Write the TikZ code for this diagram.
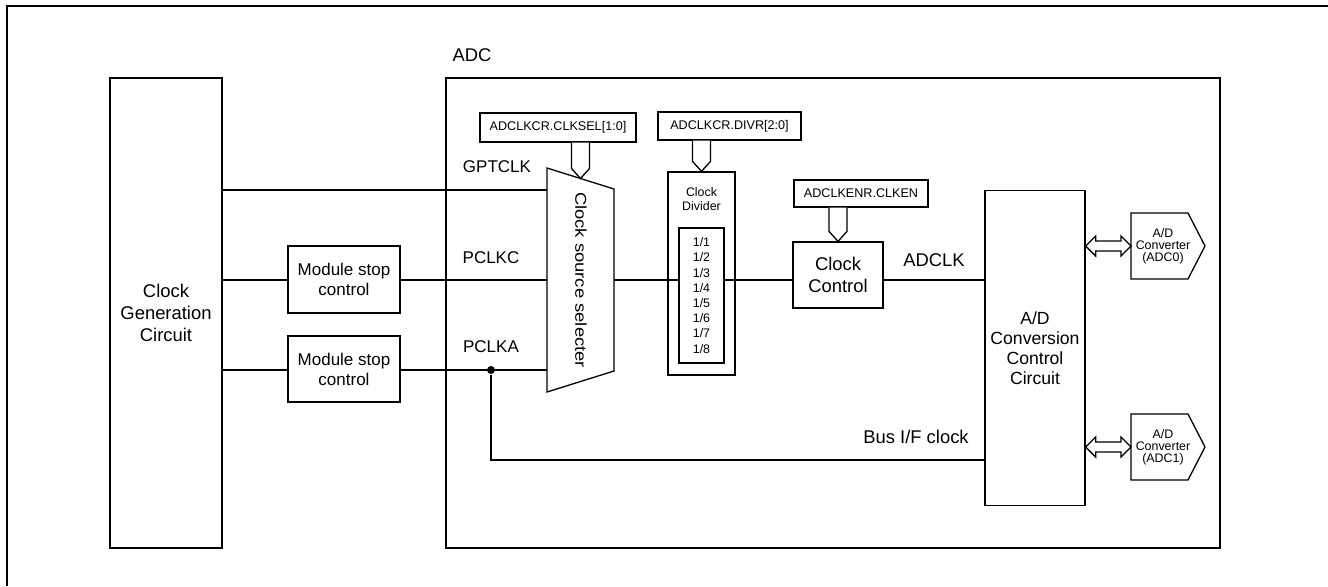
\documentclass[tikz,border=0pt]{standalone}
\usepackage{fontspec}
\setmainfont{Liberation Sans}
\usepackage{graphicx}
\usetikzlibrary{positioning, calc}

\newcommand\fs[2]{\fontsize{#1}{#2}\selectfont}
\newcommand\busdown[2]{\draw[hollow] ($(#1)+(-9,0)$) -- ($(#2)+(-9,-10)$) -- (#2) -- ($(#2)+(9,-10)$) -- ($(#1)+(9,0)$);}
\newcommand\dblarrow[2]{\draw[hollow] (#1) -- ++(10,-10) -- ++(0,5) -- ($(#2)+(-10,-5)$) -- ++(0,-5) -- (#2) -- ++(-10,10) -- ++(0,-5) -- ($(#1)+(10,5)$) -- ++(0,5) -- cycle;}
\newcommand\convshape[1]{\draw ($(#1)+(-32,-33)$) -- ($(#1)+(25,-33)$) -- ($(#1)+(42,0)$) -- ($(#1)+(25,33)$) -- ($(#1)+(-32,33)$) -- cycle;}

\tikzset{
  blk/.style={draw, inner sep=0pt, align=center, font=\fs{9.2}{10.9}},
  reg/.style={draw, inner sep=0pt, font=\fs{6.3}{7}},
  lbl/.style={inner sep=0pt, font=\fs{9.2}{11}},
  sig/.style={inner sep=0pt, font=\fs{8.5}{10}},
  tiny/.style={inner sep=0pt, align=center, font=\fs{6.2}{6.4}},
  hollow/.style={draw, fill=white},
}

\begin{document}
\begin{tikzpicture}[x=0.5pt, y=-0.5pt, line width=0.65pt]
\useasboundingbox (0,0) rectangle (1328,586);
\draw[line width=1.4pt] (7,586) -- (7,6) -- (1328,6);

% blocks
\node (cgc) [blk, minimum width=56pt, minimum height=235pt] at (166,313) {Clock\\Generation\\Circuit};
\node (adc) [draw, minimum width=387pt, minimum height=235pt] at (833,313) {};
\node (adclbl) [lbl] at (472,55) {ADC};
\node (msc1) [blk, font=\fs{8.5}{10}, minimum width=56pt, minimum height=33.5pt] at (344,279.5) {Module stop\\control};
\node (msc2) [blk, font=\fs{8.5}{10}, minimum width=56pt, minimum height=33pt] at (344,369) {Module stop\\control};

% clock source selecter
\coordinate (mux-tl) at (547,168);
\coordinate (mux-bl) at (547,392);
\coordinate (mux-tr) at (614,189);
\coordinate (mux-br) at (614,371);
\draw (mux-tl) -- (mux-tr) -- (mux-br) -- (mux-bl) -- cycle;
\node (mux) [rotate=-90, inner sep=0pt, font=\fs{9.2}{11}] at (581,280) {\scalebox{1}[0.85]{Clock source selecter}};
\coordinate (in-gpt) at (547,190);
\coordinate (in-pclkc) at (547,280);
\coordinate (in-pclka) at (547,370);
\coordinate (mux-out) at (614,280);
\coordinate (mux-top) at ($(mux-tl)!0.5!(mux-tr)$);

% registers
\node (selreg) [reg, minimum width=78pt, minimum height=14.5pt] at (558,127.5) {ADCLKCR.CLKSEL[1:0]};
\node (divreg) [reg, minimum width=71.5pt, minimum height=14pt] at (729.5,126) {ADCLKCR.DIVR[2:0]};
\node (enreg) [reg, minimum width=67pt, minimum height=13.5pt] at (861,193.5) {ADCLKENR.CLKEN};

% clock divider
\node (div) [draw, minimum width=33.5pt, minimum height=101.5pt] at (701.5,273.5) {};
\node (divttl) [tiny, font=\fs{6.2}{7}] at (701.5,199) {Clock\\Divider};
\node (divin) [draw, tiny, font=\fs{6.2}{7.6}, minimum width=22.5pt, minimum height=67.5pt] at (701.5,295.5) {1/1\\1/2\\1/3\\1/4\\1/5\\1/6\\1/7\\1/8};

\node (clkctl) [blk, minimum width=45pt, minimum height=33pt] at (838,275) {Clock\\Control};
\node (adccc) [blk, font=\fs{8.8}{9.9}, minimum width=50pt, minimum height=157.5pt] at (1035,348) {A/D\\Conversion\\Control\\Circuit};

% converters
\node (conv0) [tiny, font=\fs{6.2}{6.1}] at (1163,246) {A/D\\Converter\\(ADC0)};
\node (conv1) [tiny, font=\fs{6.2}{6.1}] at (1163,447) {A/D\\Converter\\(ADC1)};
\convshape{conv0}
\convshape{conv1}
\coordinate (conv0-in) at ($(conv0)+(-32,0)$);
\coordinate (conv1-in) at ($(conv1)+(-32,0)$);
\dblarrow{adccc.east |- conv0}{conv0-in}
\dblarrow{adccc.east |- conv1}{conv1-in}

% wires
\draw (cgc.east |- in-gpt) -- (in-gpt);
\draw (cgc.east |- in-pclkc) -- (msc1.west |- in-pclkc);
\draw (msc1.east |- in-pclkc) -- (in-pclkc);
\draw (cgc.east |- in-pclka) -- (msc2.west |- in-pclka);
\draw (msc2.east |- in-pclka) -- (in-pclka);
\node (tap) [circle, fill, inner sep=0pt, minimum size=4pt] at (491,370) {};
\draw (tap) -- (491,460) -- (adccc.west |- 0,460);
\draw (mux-out) -- (divin.west |- mux-out);
\draw (divin.east |- mux-out) -- (clkctl.west |- mux-out);
\draw (clkctl.east |- mux-out) -- (adccc.west |- mux-out);

% signal names
\node (gptlbl) [sig] at (497,167) {GPTCLK};
\node (pclkclbl) [sig] at (491,258) {PCLKC};
\node (pclkalbl) [sig] at (491,347) {PCLKA};
\node (adclklbl) [lbl] at (934,260) {ADCLK};
\node (buslbl) [lbl] at (916,437) {Bus I/F clock};

% register inputs
\coordinate (selbus) at (mux-top |- selreg.south);
\coordinate (divbus) at (div.north |- divreg.south);
\coordinate (enbus) at (clkctl.north |- enreg.south);
\busdown{selbus}{mux-top}
\busdown{divbus}{div.north}
\busdown{enbus}{clkctl.north}
\end{tikzpicture}
\end{document}
